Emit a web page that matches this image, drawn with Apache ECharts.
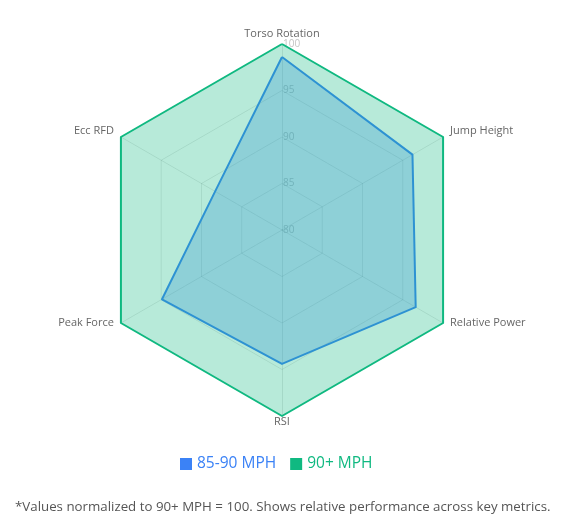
<!DOCTYPE html>
<html>
<head>
    <meta charset="utf-8">
    <title>Radar</title>
    <style>
        html, body { margin: 0; padding: 0; background: #fff; }
    </style>
</head>
<body>
    <div id="main" style="width: 573px; height: 525px;"></div>
    <script src="https://cdn.jsdelivr.net/npm/echarts@6/dist/echarts.min.js"></script>
    <script type="text/javascript">
        // indicator names in echarts order (top, then counter-clockwise)
        var metrics = ['Torso Rotation', 'Ecc RFD', 'Peak Force', 'RSI', 'Relative Power', 'Jump Height'];
        var groupNames = ['85-90 MPH', '90+ MPH'];
        var slowGroup = [98.6, 88.3, 94.9, 94.4, 96.6, 96.2];
        var fastGroup = [100, 100, 100, 100, 100, 100];
        var note = '*Values normalized to 90+ MPH = 100. Shows relative performance across key metrics.';

        var chart = echarts.init(document.getElementById('main'));
        var font = '"Open Sans", "Noto Sans", sans-serif';

        var indicators = metrics.map(function (m, i) {
            var ind = { name: m, min: 80, max: 100 };
            if (i === 0) {
                ind.axisLabel = {
                    show: true, color: '#c4c4c4', fontSize: 10, fontFamily: font,
                    align: 'left', margin: -1
                };
            }
            return ind;
        });

        // name label style per position: top, upper sides, lower sides, bottom
        var nameKeys = ['t', 'u', 'l', 'b', 'l', 'u'];

        var option = {
            textStyle: { fontFamily: font },
            legend: {
                data: groupNames,
                bottom: 48,
                left: 175,
                icon: 'rect',
                itemWidth: 12,
                itemHeight: 12,
                itemGap: 14,
                textStyle: { fontSize: 15.5, color: 'inherit' }
            },
            graphic: [{
                type: 'text',
                left: 15,
                top: 501,
                style: { text: note, fill: '#555', fontSize: 13.3, fontFamily: font }
            }],
            radar: {
                center: [282, 230],
                radius: 186,
                splitNumber: 4,
                shape: 'polygon',
                indicator: indicators,
                axisName: {
                    color: '#666', fontSize: 11, fontFamily: font,
                    formatter: function (name) {
                        return '{' + nameKeys[metrics.indexOf(name)] + '|' + name + '}';
                    },
                    rich: {
                        t: { color: '#666', fontSize: 11, fontFamily: font, padding: [0, 0, 5, 0] },
                        b: { color: '#666', fontSize: 11, fontFamily: font, padding: [0, 0, 0, 0] },
                        u: { color: '#666', fontSize: 11, fontFamily: font, padding: [0, 7, 12, 7] },
                        l: { color: '#666', fontSize: 11, fontFamily: font, padding: [0, 7, 0, 7] }
                    }
                },
                nameGap: 0,
                axisLabel: { show: false },
                axisLine: { lineStyle: { color: 'rgba(0,0,0,0.1)' } },
                splitLine: { lineStyle: { color: 'rgba(0,0,0,0.1)' } },
                splitArea: { show: false }
            },
            series: [{
                type: 'radar',
                symbol: 'none',
                data: [
                    {
                        name: groupNames[0],
                        value: slowGroup,
                        itemStyle: { color: '#3b82f6' },
                        lineStyle: { color: '#3b82f6', width: 2 },
                        areaStyle: { color: '#3b82f6', opacity: 0.3 }
                    },
                    {
                        name: groupNames[1],
                        value: fastGroup,
                        itemStyle: { color: '#10b981' },
                        lineStyle: { color: '#10b981', width: 2 },
                        areaStyle: { color: '#10b981', opacity: 0.3 }
                    }
                ]
            }]
        };

        chart.setOption(option);
    </script>
</body>
</html>
